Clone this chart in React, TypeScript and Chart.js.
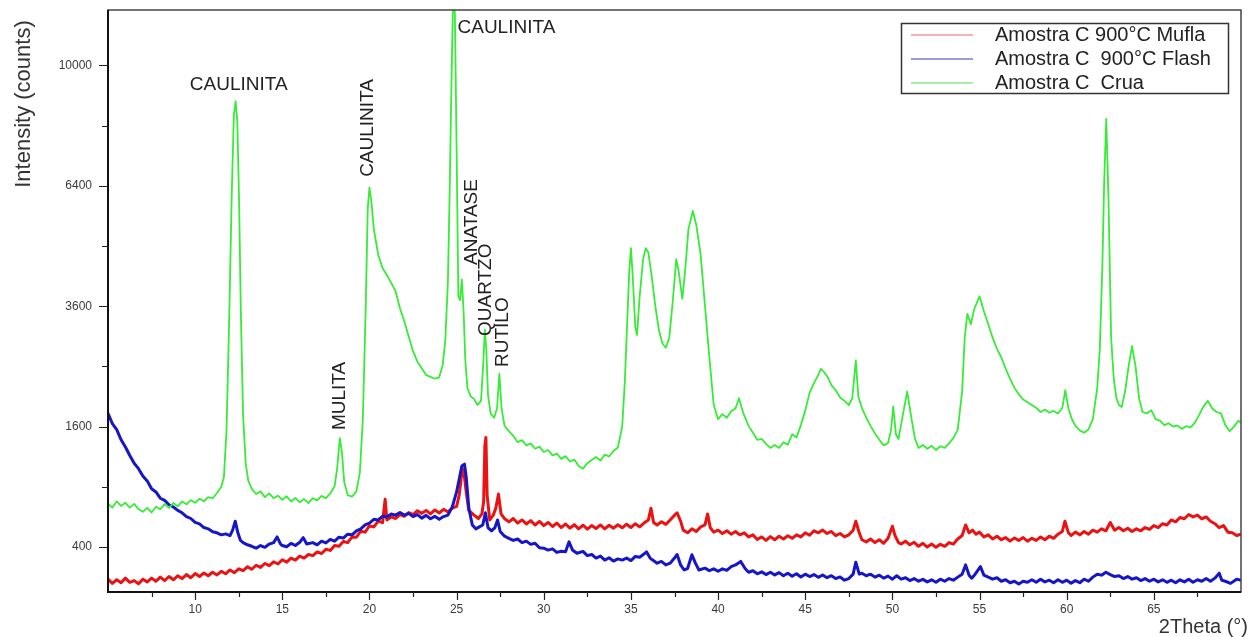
import { useEffect, useRef } from 'react';
import { Chart, registerables, LinearScale } from 'chart.js';

Chart.register(...registerables);

// Square-root intensity axis, as used for XRD counts.
class SqrtScale extends LinearScale {
  static id = 'sqrt';
  static defaults = {};
  getPixelForValue(value: number) {
    const lo = Math.sqrt(this.min);
    const hi = Math.sqrt(this.max);
    return this.getPixelForDecimal((Math.sqrt(Math.max(value, 0)) - lo) / (hi - lo));
  }
  getValueForPixel(pixel: number) {
    const lo = Math.sqrt(this.min);
    const hi = Math.sqrt(this.max);
    const s = lo + this.getDecimalForPixel(pixel) * (hi - lo);
    return s * s;
  }
}
Chart.register(SqrtScale);

// [2θ (°), intensity (counts)]
const mufla900: [number, number][] = [
  [5.0, 215], [5.25, 195], [5.5, 212], [5.75, 198], [6.0, 220], [6.25, 200], [6.5, 208], [6.75, 193],
  [7.0, 215], [7.25, 202], [7.5, 220], [7.75, 205], [8.0, 225], [8.25, 208], [8.5, 228], [8.75, 212],
  [9.0, 232], [9.25, 218], [9.5, 238], [9.75, 222], [10.0, 243], [10.25, 228], [10.5, 246], [10.75, 232],
  [11.0, 250], [11.25, 236], [11.5, 255], [11.75, 242], [12.0, 262], [12.25, 248], [12.5, 268], [12.75, 258],
  [13.0, 280], [13.25, 266], [13.5, 288], [13.75, 276], [14.0, 298], [14.25, 286], [14.5, 308], [14.75, 295],
  [15.0, 320], [15.25, 306], [15.5, 330], [15.75, 318], [16.0, 342], [16.25, 330], [16.5, 352], [16.75, 345],
  [17.0, 368], [17.25, 358], [17.5, 385], [17.75, 378], [18.0, 410], [18.25, 405], [18.5, 438], [18.75, 430],
  [19.0, 470], [19.25, 468], [19.5, 512], [19.75, 505], [20.0, 552], [20.25, 545], [20.5, 590], [20.75, 578],
  [20.9, 780], [21.0, 600], [21.25, 625], [21.5, 612], [21.75, 645], [22.0, 630], [22.25, 662], [22.5, 645],
  [22.75, 678], [23.0, 655], [23.25, 680], [23.5, 650], [23.75, 684], [24.0, 658], [24.25, 690], [24.5, 668],
  [24.75, 700], [25.0, 715], [25.15, 820], [25.3, 1050], [25.4, 1080], [25.55, 850], [25.7, 680], [26.0, 640],
  [26.25, 612], [26.45, 650], [26.55, 760], [26.62, 1350], [26.68, 1460], [26.75, 820], [26.9, 600], [27.1, 640],
  [27.25, 700], [27.4, 830], [27.55, 650], [27.75, 610], [28.0, 585], [28.25, 612], [28.5, 575], [28.75, 600],
  [29.0, 568], [29.25, 595], [29.5, 560], [29.75, 588], [30.0, 555], [30.25, 580], [30.5, 548], [30.75, 575],
  [31.0, 540], [31.25, 568], [31.5, 535], [31.75, 562], [32.0, 530], [32.25, 558], [32.5, 528], [32.75, 555],
  [33.0, 532], [33.25, 560], [33.5, 530], [33.75, 558], [34.0, 535], [34.25, 562], [34.5, 538], [34.75, 566],
  [35.0, 540], [35.25, 570], [35.5, 545], [35.75, 575], [36.0, 600], [36.15, 700], [36.3, 580], [36.5, 560],
  [36.75, 585], [37.0, 565], [37.25, 600], [37.5, 640], [37.65, 660], [37.85, 590], [38.0, 520], [38.25, 500],
  [38.5, 530], [38.75, 510], [39.0, 545], [39.25, 560], [39.4, 650], [39.55, 540], [39.75, 505], [40.0, 520],
  [40.25, 495], [40.5, 515], [40.75, 490], [41.0, 510], [41.25, 485], [41.5, 500], [41.75, 470], [42.0, 485],
  [42.25, 452], [42.5, 470], [42.75, 445], [43.0, 472], [43.25, 450], [43.5, 475], [43.75, 455], [44.0, 478],
  [44.25, 460], [44.5, 485], [44.75, 470], [45.0, 500], [45.25, 482], [45.5, 515], [45.75, 500], [46.0, 520],
  [46.25, 495], [46.5, 510], [46.75, 480], [47.0, 495], [47.25, 470], [47.5, 485], [47.75, 520], [47.9, 590],
  [48.1, 500], [48.25, 450], [48.5, 435], [48.75, 455], [49.0, 430], [49.25, 450], [49.5, 425], [49.75, 460],
  [50.0, 550], [50.15, 480], [50.35, 430], [50.5, 420], [50.75, 440], [51.0, 415], [51.25, 432], [51.5, 405],
  [51.75, 425], [52.0, 400], [52.25, 420], [52.5, 398], [52.75, 418], [53.0, 405], [53.25, 430], [53.5, 420],
  [53.75, 455], [54.0, 480], [54.2, 560], [54.4, 500], [54.6, 520], [54.8, 490], [55.0, 505], [55.25, 470],
  [55.5, 485], [55.75, 455], [56.0, 475], [56.25, 450], [56.5, 465], [56.75, 440], [57.0, 462], [57.25, 445],
  [57.5, 465], [57.75, 440], [58.0, 460], [58.25, 445], [58.5, 470], [58.75, 450], [59.0, 475], [59.25, 460],
  [59.5, 490], [59.75, 510], [59.9, 590], [60.1, 500], [60.25, 480], [60.5, 505], [60.75, 485], [61.0, 510],
  [61.25, 490], [61.5, 520], [61.75, 505], [62.0, 530], [62.25, 515], [62.5, 580], [62.75, 520], [63.0, 540],
  [63.25, 515], [63.5, 535], [63.75, 510], [64.0, 530], [64.25, 515], [64.5, 540], [64.75, 525], [65.0, 555],
  [65.25, 540], [65.5, 570], [65.75, 560], [66.0, 600], [66.25, 585], [66.5, 620], [66.75, 610], [67.0, 645],
  [67.25, 625], [67.5, 640], [67.75, 610], [68.0, 625], [68.25, 590], [68.5, 570], [68.75, 540], [69.0, 555],
  [69.25, 505], [69.5, 500], [69.75, 480], [70.0, 490],
];

const flash900: [number, number][] = [
  [5.0, 1780], [5.25, 1640], [5.5, 1560], [5.75, 1430], [6.0, 1340], [6.25, 1240], [6.5, 1150], [6.75, 1090],
  [7.0, 1010], [7.25, 960], [7.5, 880], [7.75, 850], [8.0, 790], [8.25, 770], [8.5, 730], [8.75, 710],
  [9.0, 680], [9.25, 660], [9.5, 628], [9.75, 612], [10.0, 580], [10.25, 568], [10.5, 540], [10.75, 530],
  [11.0, 508], [11.25, 500], [11.5, 485], [11.75, 492], [12.0, 480], [12.15, 520], [12.3, 590], [12.45, 500],
  [12.6, 445], [12.75, 430], [13.0, 415], [13.25, 405], [13.5, 392], [13.75, 410], [14.0, 398], [14.25, 420],
  [14.5, 430], [14.7, 470], [14.9, 420], [15.0, 410], [15.25, 402], [15.5, 425], [15.75, 410], [16.0, 432],
  [16.2, 465], [16.4, 420], [16.75, 430], [17.0, 415], [17.25, 440], [17.5, 428], [17.75, 452], [18.0, 440],
  [18.25, 468], [18.5, 462], [18.75, 490], [19.0, 485], [19.25, 515], [19.5, 530], [19.75, 560], [20.0, 575],
  [20.25, 605], [20.5, 600], [20.75, 630], [21.0, 625], [21.25, 650], [21.5, 640], [21.75, 662], [22.0, 640],
  [22.25, 655], [22.5, 628], [22.75, 645], [23.0, 615], [23.25, 638], [23.5, 610], [23.75, 630], [24.0, 605],
  [24.25, 628], [24.5, 640], [24.75, 710], [25.0, 850], [25.15, 980], [25.3, 1120], [25.45, 1140], [25.55, 1000],
  [25.7, 700], [25.9, 560], [26.1, 530], [26.3, 545], [26.5, 560], [26.65, 660], [26.8, 540], [27.0, 515],
  [27.2, 540], [27.35, 600], [27.5, 510], [27.75, 475], [28.0, 460], [28.25, 445], [28.5, 455], [28.75, 430],
  [29.0, 440], [29.25, 418], [29.5, 425], [29.75, 395], [30.0, 392], [30.25, 380], [30.5, 388], [30.75, 365],
  [31.0, 372], [31.25, 370], [31.45, 435], [31.65, 380], [31.9, 360], [32.25, 372], [32.5, 345], [32.75, 352],
  [33.0, 330], [33.25, 342], [33.5, 318], [33.75, 332], [34.0, 312], [34.25, 325], [34.5, 318], [34.75, 330],
  [35.0, 315], [35.25, 340], [35.5, 335], [35.75, 355], [35.9, 368], [36.1, 330], [36.25, 318], [36.5, 300],
  [36.75, 310], [37.0, 290], [37.25, 300], [37.5, 330], [37.65, 352], [37.85, 290], [38.05, 262], [38.25, 270],
  [38.5, 350], [38.7, 300], [38.9, 262], [39.25, 272], [39.5, 258], [39.75, 268], [40.0, 255], [40.25, 268],
  [40.5, 260], [40.75, 280], [41.0, 290], [41.3, 310], [41.55, 270], [41.75, 250], [42.0, 258], [42.25, 242],
  [42.5, 252], [42.75, 238], [43.0, 250], [43.25, 236], [43.5, 248], [43.75, 232], [44.0, 245], [44.25, 230],
  [44.5, 242], [44.75, 226], [45.0, 240], [45.25, 228], [45.5, 238], [45.75, 224], [46.0, 236], [46.25, 222],
  [46.5, 232], [46.75, 218], [47.0, 226], [47.25, 210], [47.5, 218], [47.75, 240], [47.9, 305], [48.1, 240],
  [48.25, 245], [48.5, 232], [48.75, 240], [49.0, 225], [49.25, 235], [49.5, 220], [49.75, 230], [50.0, 215],
  [50.25, 232], [50.5, 215], [50.75, 222], [51.0, 208], [51.25, 218], [51.5, 205], [51.75, 214], [52.0, 202],
  [52.25, 212], [52.5, 200], [52.75, 215], [53.0, 205], [53.25, 218], [53.5, 210], [53.75, 225], [54.0, 240],
  [54.2, 290], [54.4, 235], [54.55, 220], [54.75, 240], [55.05, 280], [55.25, 235], [55.5, 225], [55.75, 215],
  [56.0, 222], [56.25, 205], [56.5, 212], [56.75, 198], [57.0, 205], [57.25, 192], [57.5, 205], [57.75, 200],
  [58.0, 212], [58.25, 200], [58.5, 215], [58.75, 202], [59.0, 210], [59.25, 198], [59.5, 212], [59.75, 200],
  [60.0, 210], [60.25, 196], [60.5, 208], [60.75, 198], [61.0, 215], [61.25, 205], [61.5, 225], [61.75, 240],
  [62.0, 235], [62.25, 250], [62.5, 238], [62.75, 228], [63.0, 232], [63.25, 218], [63.5, 228], [63.75, 215],
  [64.0, 222], [64.25, 208], [64.5, 218], [64.75, 205], [65.0, 215], [65.25, 202], [65.5, 212], [65.75, 200],
  [66.0, 210], [66.25, 198], [66.5, 212], [66.75, 202], [67.0, 215], [67.25, 200], [67.5, 212], [67.75, 205],
  [68.0, 218], [68.25, 205], [68.5, 220], [68.75, 245], [68.9, 210], [69.1, 205], [69.4, 195], [69.75, 215],
  [70.0, 210],
];

const crua: [number, number][] = [
  [5.0, 740], [5.25, 705], [5.5, 760], [5.75, 720], [6.0, 748], [6.25, 705], [6.5, 738], [6.75, 692],
  [7.0, 668], [7.25, 702], [7.5, 662], [7.75, 712], [8.0, 690], [8.25, 736], [8.5, 702], [8.75, 746],
  [9.0, 716], [9.25, 760], [9.5, 734], [9.75, 772], [10.0, 748], [10.25, 786], [10.5, 762], [10.75, 800],
  [11.0, 788], [11.25, 840], [11.5, 900], [11.65, 1000], [11.8, 1550], [11.95, 3300], [12.1, 6200], [12.22, 8400],
  [12.32, 8850], [12.42, 8200], [12.52, 6000], [12.62, 3500], [12.75, 1750], [12.9, 1150], [13.05, 960], [13.25, 880],
  [13.5, 830], [13.75, 855], [14.0, 800], [14.25, 835], [14.5, 790], [14.75, 815], [15.0, 775], [15.25, 808],
  [15.5, 760], [15.75, 792], [16.0, 752], [16.25, 782], [16.5, 745], [16.75, 790], [17.0, 770], [17.25, 812],
  [17.5, 790], [17.75, 835], [18.0, 905], [18.15, 1100], [18.3, 1450], [18.42, 1280], [18.55, 950], [18.75, 820],
  [19.0, 805], [19.25, 855], [19.45, 1050], [19.62, 1700], [19.78, 3500], [19.9, 5800], [20.0, 6350], [20.12, 5950],
  [20.25, 5300], [20.5, 4700], [20.75, 4400], [21.0, 4250], [21.25, 4080], [21.5, 3900], [21.75, 3560], [22.0, 3300],
  [22.25, 3020], [22.5, 2760], [22.75, 2580], [23.0, 2470], [23.25, 2360], [23.5, 2330], [23.75, 2300], [24.0, 2320],
  [24.2, 2520], [24.35, 2950], [24.5, 4100], [24.6, 6200], [24.7, 9300], [24.8, 12500], [24.9, 11800], [25.0, 7400],
  [25.1, 3800], [25.2, 3720], [25.3, 4150], [25.4, 3500], [25.5, 2600], [25.62, 2150], [25.8, 2030], [26.0, 1990],
  [26.2, 1900], [26.4, 1960], [26.52, 2500], [26.62, 3150], [26.7, 2800], [26.8, 2050], [26.95, 1780], [27.15, 1720],
  [27.32, 1850], [27.45, 2380], [27.58, 1850], [27.75, 1610], [28.0, 1540], [28.25, 1480], [28.5, 1400], [28.75, 1425],
  [29.0, 1360], [29.25, 1385], [29.5, 1320], [29.75, 1345], [30.0, 1280], [30.25, 1305], [30.5, 1240], [30.75, 1262],
  [31.0, 1200], [31.25, 1232], [31.5, 1170], [31.75, 1192], [32.0, 1120], [32.25, 1090], [32.5, 1150], [32.75, 1188],
  [33.0, 1222], [33.25, 1180], [33.5, 1250], [33.75, 1228], [34.0, 1292], [34.25, 1335], [34.5, 1600], [34.65, 2250],
  [34.8, 3400], [34.9, 4300], [35.0, 4850], [35.1, 4250], [35.25, 3200], [35.35, 3050], [35.5, 3800], [35.7, 4600],
  [35.85, 4850], [36.0, 4750], [36.2, 4200], [36.4, 3600], [36.6, 3150], [36.8, 2900], [37.0, 2820], [37.2, 3000],
  [37.4, 3700], [37.6, 4600], [37.75, 4300], [37.95, 3750], [38.1, 4300], [38.3, 5300], [38.55, 5750], [38.75, 5400],
  [39.0, 4700], [39.25, 3600], [39.5, 2650], [39.75, 1900], [40.0, 1700], [40.25, 1770], [40.5, 1720], [40.75, 1810],
  [41.0, 1850], [41.2, 2000], [41.45, 1780], [41.75, 1610], [42.0, 1520], [42.25, 1430], [42.5, 1440], [42.75, 1380],
  [43.0, 1330], [43.25, 1365], [43.5, 1330], [43.75, 1400], [44.0, 1370], [44.25, 1500], [44.5, 1460], [44.75, 1620],
  [45.0, 1820], [45.25, 2080], [45.5, 2230], [45.75, 2360], [45.9, 2460], [46.1, 2400], [46.3, 2320], [46.5, 2200],
  [46.75, 2120], [47.0, 2010], [47.25, 1960], [47.5, 1900], [47.7, 2000], [47.9, 2600], [48.05, 2020], [48.25, 1860],
  [48.5, 1720], [48.75, 1610], [49.0, 1510], [49.25, 1430], [49.5, 1360], [49.75, 1390], [49.92, 1550], [50.05, 1880],
  [50.2, 1500], [50.35, 1440], [50.6, 1760], [50.85, 2100], [51.1, 1700], [51.3, 1440], [51.5, 1330], [51.75, 1365],
  [52.0, 1320], [52.25, 1355], [52.5, 1305], [52.75, 1350], [53.0, 1330], [53.25, 1385], [53.5, 1450], [53.75, 1560],
  [54.0, 2100], [54.15, 3000], [54.3, 3450], [54.5, 3250], [54.7, 3550], [55.0, 3800], [55.25, 3500], [55.5, 3250],
  [55.75, 3000], [56.0, 2800], [56.25, 2650], [56.5, 2460], [56.75, 2300], [57.0, 2160], [57.25, 2060], [57.5, 1980],
  [57.75, 1940], [58.0, 1900], [58.25, 1860], [58.5, 1800], [58.75, 1835], [59.0, 1790], [59.25, 1815], [59.5, 1780],
  [59.75, 1860], [59.92, 2120], [60.1, 1850], [60.3, 1700], [60.5, 1610], [60.75, 1550], [61.0, 1520], [61.25, 1565],
  [61.5, 1700], [61.75, 2150], [61.9, 2800], [62.05, 4500], [62.15, 6500], [62.27, 8300], [62.4, 6000], [62.55, 3000],
  [62.7, 2300], [62.85, 2000], [63.0, 1900], [63.15, 1870], [63.35, 2100], [63.55, 2500], [63.75, 2850], [63.95, 2500],
  [64.15, 2000], [64.35, 1800], [64.6, 1780], [64.85, 1825], [65.1, 1700], [65.35, 1680], [65.6, 1620], [65.85, 1645],
  [66.1, 1600], [66.35, 1615], [66.6, 1570], [66.85, 1605], [67.1, 1590], [67.35, 1650], [67.6, 1760], [67.85, 1880],
  [68.1, 1960], [68.35, 1850], [68.6, 1800], [68.85, 1780], [69.1, 1620], [69.35, 1540], [69.6, 1600], [69.85, 1680],
  [70.0, 1650],
];

// Axis ticks
const angleTicks = [7.5, 10, 12.5, 15, 17.5, 20, 22.5, 25, 27.5, 30, 32.5, 35, 37.5, 40, 42.5, 45, 47.5, 50, 52.5, 55, 57.5, 60, 62.5, 65, 67.5];
const angleLabels = [10, 15, 20, 25, 30, 35, 40, 45, 50, 55, 60, 65];
const countTicks = [400, 900, 1600, 2500, 3600, 4900, 6400, 8100, 10000];
const countLabels = [400, 1600, 3600, 6400, 10000];

// Phase annotations: [text, 2θ, counts, vertical?]
const phaseLabels: [string, number, number, boolean][] = [
  ['CAULINITA', 12.5, 9360, false],
  ['MULITA', 18.29, 1555, true],
  ['CAULINITA', 19.89, 6640, true],
  ['CAULINITA', 25.05, 11280, false],
  ['ANATASE', 25.85, 4470, true],
  ['QUARTZO', 26.65, 3030, true],
  ['RUTILO', 27.62, 2490, true],
];

const seriesNames = ['Amostra C 900°C Mufla', 'Amostra C  900°C Flash', 'Amostra C  Crua'];
const lineColors = ['#ea1212', '#1616c8', '#36ec36'];
const legendColors = ['#f29a9a', '#7a7ad8', '#8ee88e'];

const FONT = '"Liberation Sans", Arial, sans-serif';

const decorations = {
  id: 'decorations',
  afterDatasetsDraw(chart: any) {
    const { ctx, chartArea: a, scales } = chart;
    const xs = scales.x;
    const ys = scales.y;
    ctx.save();

    // plot frame
    ctx.strokeStyle = '#444';
    ctx.lineWidth = 1.5;
    ctx.strokeRect(a.left, a.top, a.right - a.left, a.bottom - a.top);
    ctx.strokeStyle = '#111';
    ctx.lineWidth = 2;
    ctx.beginPath();
    ctx.moveTo(a.left, a.top);
    ctx.lineTo(a.left, a.bottom);
    ctx.lineTo(a.right, a.bottom);
    ctx.stroke();

    // tick marks
    ctx.lineWidth = 1.2;
    ctx.strokeStyle = '#222';
    ctx.beginPath();
    angleTicks.forEach((t) => {
      const px = Math.round(xs.getPixelForValue(t)) + 0.5;
      const len = angleLabels.includes(t) ? 8 : 5;
      ctx.moveTo(px, a.bottom);
      ctx.lineTo(px, a.bottom + len);
    });
    countTicks.forEach((t) => {
      const py = Math.round(ys.getPixelForValue(t)) + 0.5;
      const len = countLabels.includes(t) ? 9 : 6;
      ctx.moveTo(a.left, py);
      ctx.lineTo(a.left - len, py);
    });
    ctx.stroke();

    // phase labels
    ctx.fillStyle = '#222';
    ctx.font = `19px ${FONT}`;
    phaseLabels.forEach(([text, ang, cnt, vertical]) => {
      const px = xs.getPixelForValue(ang);
      const py = ys.getPixelForValue(cnt);
      ctx.save();
      ctx.translate(px, py);
      if (vertical) {
        ctx.rotate(-Math.PI / 2);
        ctx.textAlign = 'left';
      } else {
        ctx.textAlign = ang > 20 ? 'left' : 'center';
      }
      ctx.textBaseline = 'middle';
      ctx.fillText(text, 0, 0);
      ctx.restore();
    });

    // legend
    ctx.strokeStyle = '#333';
    ctx.lineWidth = 1.5;
    ctx.strokeRect(901.5, 23.5, 327, 70);
    ctx.font = `20px ${FONT}`;
    ctx.textAlign = 'left';
    ctx.textBaseline = 'middle';
    seriesNames.forEach((name, i) => {
      const yy = 35 + i * 24;
      ctx.strokeStyle = legendColors[i];
      ctx.lineWidth = 1.5;
      ctx.beginPath();
      ctx.moveTo(911, yy);
      ctx.lineTo(973, yy);
      ctx.stroke();
      ctx.fillStyle = '#222';
      ctx.fillText(name, 995, yy);
    });

    // axis titles
    ctx.fillStyle = '#333';
    ctx.font = `22px ${FONT}`;
    ctx.save();
    ctx.translate(24, 104);
    ctx.rotate(-Math.PI / 2);
    ctx.textAlign = 'center';
    ctx.textBaseline = 'middle';
    ctx.fillText('Intensity (counts)', 0, 0);
    ctx.restore();
    ctx.font = `20px ${FONT}`;
    ctx.textAlign = 'right';
    ctx.textBaseline = 'alphabetic';
    ctx.fillText('2Theta (°)', 1248, 633);

    ctx.restore();
  },
};

const toPoints = (rows: [number, number][]) => rows.map(([x, y]) => ({ x, y }));

export default function App() {
  const canvasRef = useRef<HTMLCanvasElement | null>(null);

  useEffect(() => {
    const canvas = canvasRef.current;
    if (!canvas) return;
    const lineStyle = { pointRadius: 0, tension: 0, fill: false, borderJoinStyle: 'round' as const };
    const chart = new Chart(canvas, {
      type: 'line',
      data: {
        datasets: [
          { label: seriesNames[2], data: toPoints(crua), borderColor: lineColors[2], borderWidth: 1.8, ...lineStyle },
          { label: seriesNames[1], data: toPoints(flash900), borderColor: lineColors[1], borderWidth: 3, ...lineStyle },
          { label: seriesNames[0], data: toPoints(mufla900), borderColor: lineColors[0], borderWidth: 3, ...lineStyle },
        ],
      },
      options: {
        animation: false,
        responsive: false,
        maintainAspectRatio: false,
        devicePixelRatio: 1,
        events: [],
        layout: { padding: { top: 10, right: 9, left: 0, bottom: 0 } },
        plugins: { legend: { display: false }, tooltip: { enabled: false } },
        scales: {
          x: {
            type: 'linear',
            min: 5,
            max: 70,
            grid: { display: false, drawTicks: false },
            border: { display: false },
            afterFit: (s: any) => { s.height = 45; s.paddingLeft = 0; s.paddingRight = 0; },
            afterBuildTicks: (s: any) => { s.ticks = angleTicks.map((v) => ({ value: v })); },
            ticks: {
              padding: 10,
              autoSkip: false,
              maxRotation: 0,
              color: '#3a3a3a',
              font: { family: FONT, size: 12 },
              callback: (v: any) => (angleLabels.includes(Number(v)) ? String(v) : ''),
            },
          },
          y: {
            type: 'sqrt' as any,
            min: 157,
            max: 11925,
            grid: { display: false, drawTicks: false },
            border: { display: false },
            afterFit: (s: any) => { s.width = 108; s.paddingTop = 0; s.paddingBottom = 0; },
            afterBuildTicks: (s: any) => { s.ticks = countTicks.map((v) => ({ value: v })); },
            ticks: {
              padding: 16,
              autoSkip: false,
              color: '#3a3a3a',
              font: { family: FONT, size: 12 },
              callback: (v: any) => (countLabels.includes(Number(v)) ? String(v) : ''),
            },
          },
        },
      },
      plugins: [decorations],
    });
    return () => chart.destroy();
  }, []);

  return (
    <div style={{ position: 'absolute', left: 0, top: 0, width: 1250, height: 637, background: '#fff' }}>
      <canvas ref={canvasRef} width={1250} height={637} style={{ display: 'block', width: 1250, height: 637 }} />
    </div>
  );
}
